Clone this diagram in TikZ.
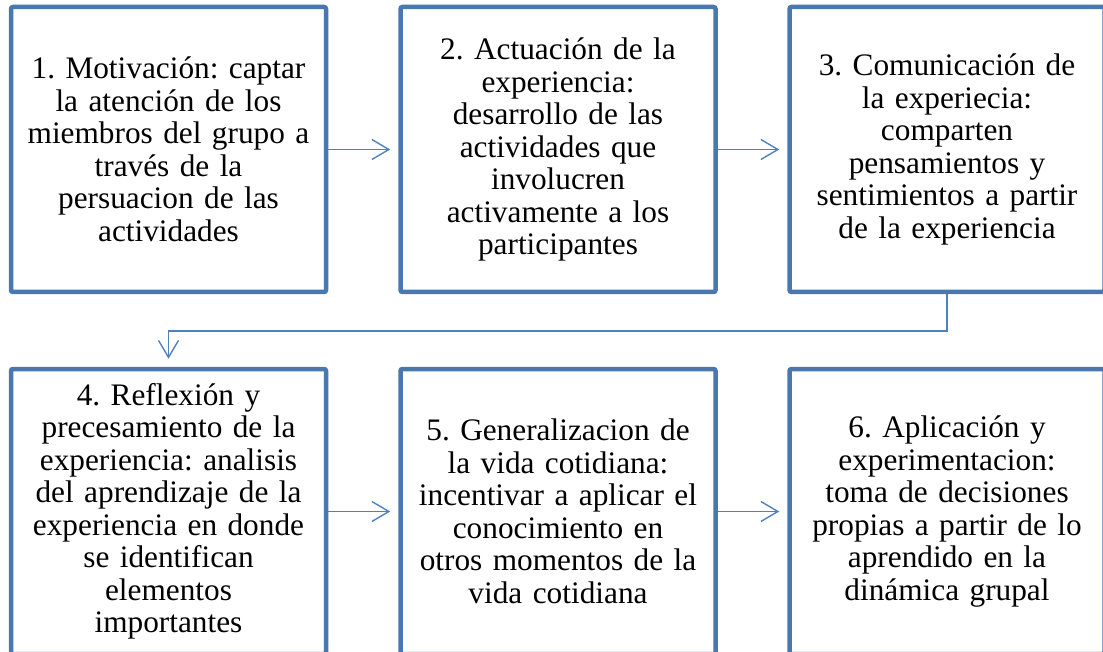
\documentclass[tikz,border=0pt]{standalone}
\usepackage{fontspec}
\setmainfont{Liberation Serif}
\usetikzlibrary{arrows.meta}
\definecolor{boxblue}{HTML}{4A77AE}
\definecolor{linkblue}{HTML}{4F81BD}
\tikzset{
  stepbox/.style={draw=boxblue, line width=4.5pt, rounded corners=2pt, fill=white,
    minimum width=315pt, minimum height=285pt, inner sep=0pt,
    text width=305pt, align=center, font=\fontsize{31.3}{32.5}\selectfont},
  conn/.style={draw=linkblue, line width=1.4pt,
    -{Straight Barb[length=17pt,width=20pt,line width=1.4pt]}, shorten >=8pt}
}
\frenchspacing
\begin{document}
\begin{tikzpicture}[x=1pt,y=-1pt]
\useasboundingbox (0,0) rectangle (1103,652);
\node[stepbox] (b1) at (168.5,149.5) {1. Motivación: captar\\la atención de los\\miembros del grupo a\\través de la\\persuacion de las\\actividades};
\node[stepbox] (b2) at (558,149.5) {2. Actuación de la\\experiencia:\\desarrollo de las\\actividades que\\involucren\\activamente a los\\participantes};
\node[stepbox] (b3) at (947,149.5) {3. Comunicación de\\la experiecia:\\comparten\\pensamientos y\\sentimientos a partir\\de la experiencia};
\node[stepbox] (b4) at (168.5,511.5) {4. Reflexión y\\precesamiento de la\\experiencia: analisis\\del aprendizaje de la\\experiencia en donde\\se identifican\\elementos\\importantes};
\node[stepbox] (b5) at (558,511.5) {5. Generalizacion de\\la vida cotidiana:\\incentivar a aplicar el\\conocimiento en\\otros momentos de la\\vida cotidiana};
\node[stepbox] (b6) at (947,511.5) {6. Aplicación y\\experimentacion:\\toma de decisiones\\propias a partir de lo\\aprendido en la\\dinámica grupal};
\coordinate (mid) at (0,331);
\draw[conn] (b1.east) -- (b2.west);
\draw[conn] (b2.east) -- (b3.west);
\draw[conn] (b3.south) |- (b4.north |- mid) -- (b4.north);
\draw[conn] (b4.east) -- (b5.west);
\draw[conn] (b5.east) -- (b6.west);
\end{tikzpicture}
\end{document}
